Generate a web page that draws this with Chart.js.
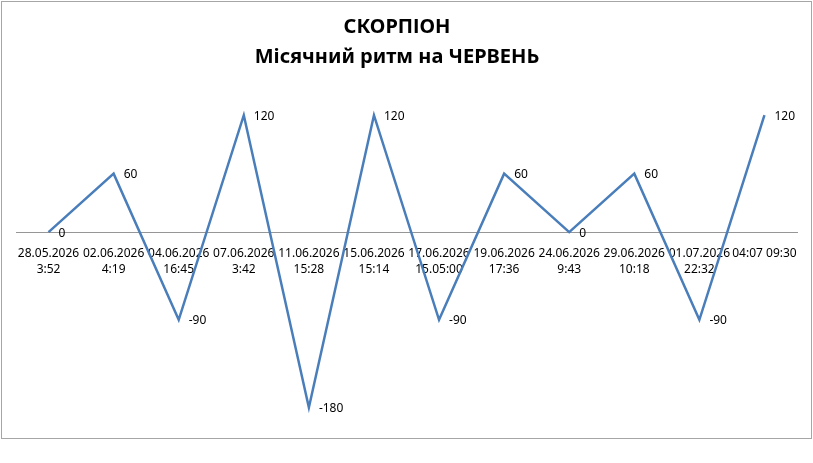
<!DOCTYPE html>
<html>
<head>
<meta charset="utf-8">
<script src="https://cdn.jsdelivr.net/npm/chart.js@4"></script>
<style>
  html, body { margin: 0; padding: 0; background: #fff; }
  #rhythmChart { display: block; }
</style>
</head>
<body>
<canvas id="rhythmChart" width="813" height="463"></canvas>
<script>
// Chart data
const titleLines = ['СКОРПІОН', 'Місячний ритм на ЧЕРВЕНЬ'];
const dates = ['28.05.2026', '02.06.2026', '04.06.2026', '07.06.2026', '11.06.2026', '15.06.2026',
               '17.06.2026', '19.06.2026', '24.06.2026', '29.06.2026', '01.07.2026', '04:07 09:30'];
const times = ['3:52', '4:19', '16:45', '3:42', '15:28', '15:14',
               '15.05:00', '17:36', '9:43', '10:18', '22:32', ''];
const rhythm = [0, 60, -90, 120, -180, 120, -90, 60, 0, 60, -90, 120];
const yMin = -200;
const yMax = 150;

const labels = dates.map((d, i) => times[i] ? [d, times[i]] : d);

// Outer frame like the spreadsheet chart box, plus the title (sits a bit left of centre)
const frame = {
    id: 'frame',
    beforeDraw(chart) {
        const ctx = chart.ctx;
        ctx.save();
        ctx.fillStyle = '#fff';
        ctx.fillRect(0, 0, chart.width, chart.height);
        ctx.strokeStyle = '#a6a6a6';
        ctx.lineWidth = 1;
        ctx.strokeRect(1.5, 1.5, 810, 437);

        ctx.fillStyle = '#000';
        ctx.font = 'bold 20px "Noto Sans"';
        ctx.textAlign = 'center';
        ctx.textBaseline = 'middle';
        titleLines.forEach((line, i) => {
            ctx.fillText(line, 397, 27 + i * 30);
        });
        ctx.restore();
    }
};

// Value labels to the right of each point
const valueLabels = {
    id: 'valueLabels',
    afterDatasetsDraw(chart) {
        const ctx = chart.ctx;
        const meta = chart.getDatasetMeta(0);
        ctx.save();
        ctx.font = '12px "Noto Sans"';
        ctx.fillStyle = '#000';
        ctx.textAlign = 'left';
        ctx.textBaseline = 'middle';
        meta.data.forEach((pt, i) => {
            ctx.fillText(String(chart.data.datasets[0].data[i]), pt.x + 10, pt.y + 1);
        });
        ctx.restore();
    }
};

const ctx = document.getElementById('rhythmChart').getContext('2d');
new Chart(ctx, {
    type: 'line',
    data: {
        labels: labels,
        datasets: [{
            data: rhythm,
            borderColor: '#4a7ebb',
            borderWidth: 2.5,
            pointRadius: 0,
            tension: 0,
            fill: false
        }]
    },
    options: {
        responsive: false,
        animation: false,
        layout: {
            padding: { left: 16, right: 16, top: 86, bottom: 36 }
        },
        plugins: {
            legend: { display: false },
            tooltip: { enabled: false },
            title: { display: false }
        },
        scales: {
            x: {
                position: { y: 0 },
                offset: true,
                grid: { display: false, drawTicks: false },
                border: { display: true, color: '#969696', width: 1 },
                ticks: {
                    color: '#000',
                    padding: 13,
                    maxRotation: 0,
                    autoSkip: false,
                    font: { family: '"Noto Sans"', size: 12, lineHeight: 1.35 }
                }
            },
            y: {
                display: false,
                min: yMin,
                max: yMax
            }
        }
    },
    plugins: [frame, valueLabels]
});
</script>
</body>
</html>
